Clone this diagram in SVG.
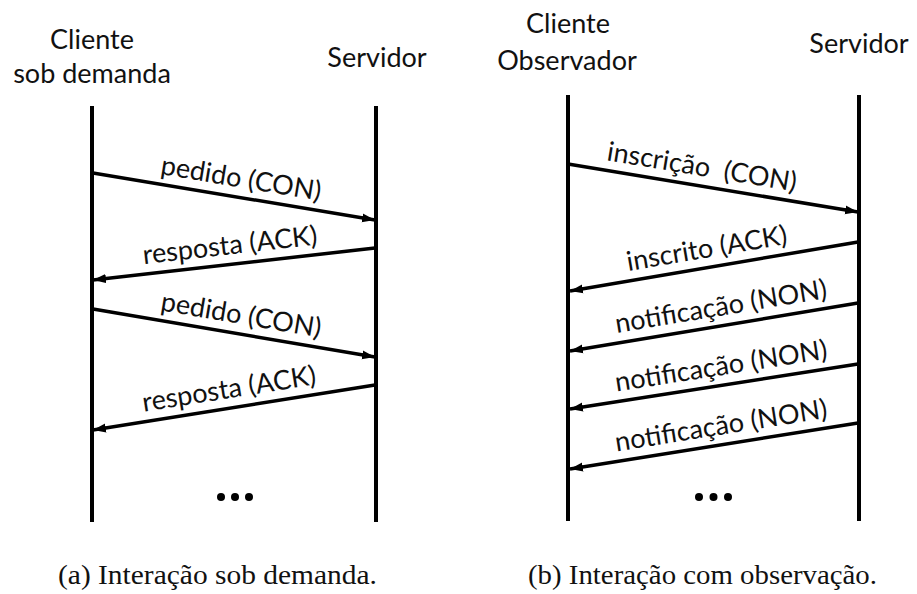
<svg xmlns="http://www.w3.org/2000/svg" width="917" height="594" viewBox="0 0 917 594">
<defs>
<marker id="ah" markerUnits="userSpaceOnUse" markerWidth="14" markerHeight="10" refX="13" refY="5" orient="auto">
<path d="M0,0.5 L13,5 L0,9.5 z" fill="#000"/>
</marker>
<style>
.life{stroke:#000;stroke-width:4;fill:none}
.msg{stroke:#000;stroke-width:3.5;fill:none;marker-end:url(#ah)}
.hd{font-family:Lato,"Open Sans",sans-serif;font-size:27px;fill:#111;text-anchor:middle}
.lb{font-family:Lato,"Open Sans",sans-serif;font-size:27px;fill:#111;text-anchor:middle}
.cap{font-family:"Liberation Serif","Times New Roman",serif;font-size:27px;fill:#111}
.dot{fill:#000}
</style>
</defs>
<rect width="917" height="594" fill="#fff"/>

<g id="left-client">
<line class="life" x1="92" y1="106" x2="92" y2="522"/>
<text class="hd" x="92" y="49">Cliente</text>
<text class="hd" x="92" y="83">sob demanda</text>
</g>
<g id="left-server">
<line class="life" x1="376" y1="106" x2="376" y2="522"/>
<text class="hd" x="377" y="67">Servidor</text>
</g>
<g id="right-client">
<line class="life" x1="568" y1="95" x2="568" y2="521"/>
<text class="hd" x="568" y="33">Cliente</text>
<text class="hd" x="567" y="70">Observador</text>
</g>
<g id="right-server">
<line class="life" x1="859" y1="95" x2="859" y2="521"/>
<text class="hd" x="859" y="53">Servidor</text>
</g>

<g id="connectors">
<line class="msg" x1="93" y1="173" x2="375" y2="220"/>
<line class="msg" x1="375" y1="248" x2="93" y2="280"/>
<line class="msg" x1="93" y1="309" x2="375" y2="357"/>
<line class="msg" x1="375" y1="385" x2="93" y2="430"/>
<line class="msg" x1="568" y1="164" x2="858" y2="212"/>
<line class="msg" x1="858" y1="242" x2="570" y2="291"/>
<line class="msg" x1="858" y1="303" x2="570" y2="351"/>
<line class="msg" x1="858" y1="364" x2="570" y2="409"/>
<line class="msg" x1="858" y1="423" x2="570" y2="469"/>
</g>

<g id="labels">
<text class="lb" transform="translate(238,197.2) rotate(9.46)" y="-10">pedido (CON)</text>
<text class="lb" transform="translate(232,264.2) rotate(-6.47)" y="-10">resposta (ACK)</text>
<text class="lb" transform="translate(238,333.7) rotate(9.66)" y="-10">pedido (CON)</text>
<text class="lb" transform="translate(232,407.8) rotate(-9.07)" y="-10">resposta (ACK)</text>
<text class="lb" transform="translate(699,185.7) rotate(9.4)" y="-10" xml:space="preserve">inscrição  (CON)</text>
<text class="lb" transform="translate(710,267.2) rotate(-9.66)" y="-10">inscrito (ACK)</text>
<text class="lb" transform="translate(724,325.3) rotate(-9.46)" y="-10">notificação (NON)</text>
<text class="lb" transform="translate(724,384.9) rotate(-8.88)" y="-10">notificação (NON)</text>
<text class="lb" transform="translate(724,444.4) rotate(-9.07)" y="-10">notificação (NON)</text>
</g>

<g id="ellipsis-left">
<circle class="dot" cx="221" cy="497" r="4"/>
<circle class="dot" cx="235" cy="497" r="4"/>
<circle class="dot" cx="249" cy="497" r="4"/>
</g>
<g id="ellipsis-right">
<circle class="dot" cx="699" cy="497" r="4"/>
<circle class="dot" cx="713.5" cy="497" r="4"/>
<circle class="dot" cx="728" cy="497" r="4"/>
</g>

<g id="captions">
<text class="cap" x="58" y="584" textLength="319" lengthAdjust="spacingAndGlyphs">(a) Interação sob demanda.</text>
<text class="cap" x="528" y="584" textLength="349" lengthAdjust="spacingAndGlyphs">(b) Interação com observação.</text>
</g>
</svg>
